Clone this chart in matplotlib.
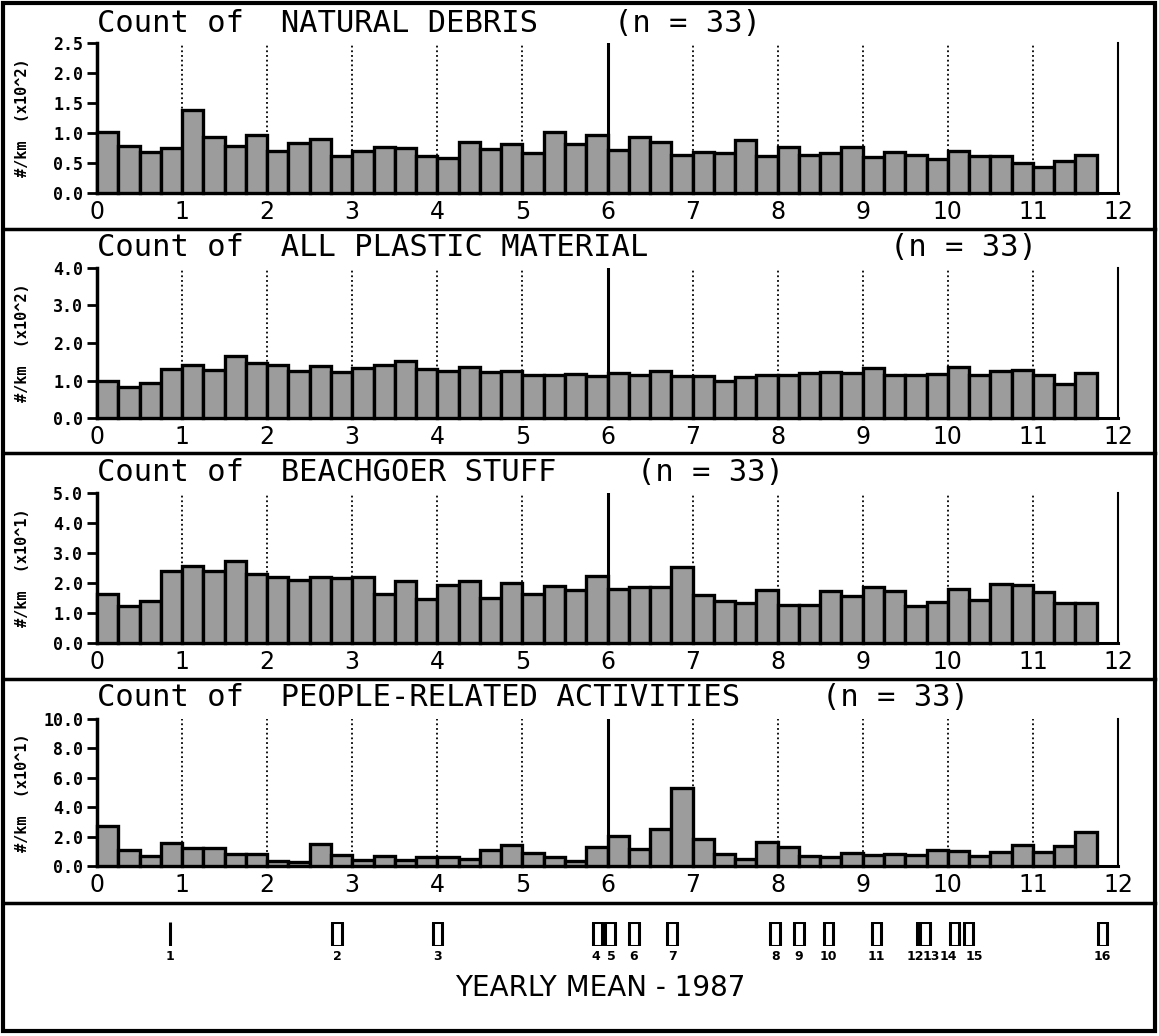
import matplotlib
matplotlib.use("Agg")
import matplotlib.pyplot as plt
from matplotlib.lines import Line2D
from matplotlib.patches import Rectangle
import numpy as np

# ---------------- data ----------------
bar_width = 0.25  # months per bar (weekly bins)

natural_debris = [1.02, 0.78, 0.68, 0.75, 1.38, 0.93, 0.78, 0.97, 0.70, 0.83, 0.90, 0.61,
                  0.70, 0.77, 0.75, 0.62, 0.59, 0.85, 0.73, 0.81, 0.67, 1.02, 0.81, 0.96,
                  0.72, 0.93, 0.85, 0.64, 0.69, 0.67, 0.89, 0.61, 0.77, 0.64, 0.66, 0.76,
                  0.60, 0.68, 0.64, 0.57, 0.70, 0.61, 0.61, 0.50, 0.43, 0.54, 0.64]

all_plastic = [1.00, 0.84, 0.93, 1.31, 1.40, 1.29, 1.64, 1.47, 1.42, 1.24, 1.38, 1.22,
               1.33, 1.40, 1.53, 1.31, 1.24, 1.35, 1.22, 1.24, 1.16, 1.16, 1.17, 1.11,
               1.20, 1.14, 1.24, 1.12, 1.12, 1.00, 1.09, 1.14, 1.14, 1.20, 1.23, 1.20,
               1.33, 1.14, 1.14, 1.18, 1.36, 1.16, 1.26, 1.27, 1.14, 0.90, 1.20]

beachgoer = [1.63, 1.24, 1.39, 2.39, 2.56, 2.39, 2.74, 2.31, 2.19, 2.11, 2.20, 2.17,
             2.20, 1.63, 2.08, 1.47, 1.94, 2.08, 1.50, 2.00, 1.63, 1.89, 1.78, 2.24,
             1.80, 1.86, 1.86, 2.52, 1.59, 1.39, 1.33, 1.78, 1.28, 1.28, 1.72, 1.56,
             1.86, 1.72, 1.22, 1.36, 1.80, 1.44, 1.97, 1.94, 1.69, 1.33, 1.33]

people_related = [2.70, 1.11, 0.66, 1.57, 1.23, 1.23, 0.84, 0.80, 0.34, 0.30, 1.50, 0.75,
                  0.41, 0.68, 0.41, 0.64, 0.64, 0.48, 1.09, 1.43, 0.91, 0.64, 0.32, 1.32,
                  2.07, 1.16, 2.50, 5.30, 1.82, 0.80, 0.45, 1.61, 1.32, 0.68, 0.59, 0.91,
                  0.75, 0.80, 0.75, 1.09, 1.02, 0.68, 0.98, 1.43, 0.98, 1.36, 2.34]

panel_names = ["NATURAL DEBRIS", "ALL PLASTIC MATERIAL", "BEACHGOER STUFF",
               "PEOPLE-RELATED ACTIVITIES"]
panel_n = [33, 33, 33, 33]
panel_series = [natural_debris, all_plastic, beachgoer, people_related]
panel_ylabels = ["#/km  (x10^2)", "#/km  (x10^2)", "#/km  (x10^1)", "#/km  (x10^1)"]
panel_yticks = [[0.0, 0.5, 1.0, 1.5, 2.0, 2.5],
                [0.0, 1.0, 2.0, 3.0, 4.0],
                [0.0, 1.0, 2.0, 3.0, 4.0, 5.0],
                [0.0, 2.0, 4.0, 6.0, 8.0, 10.0]]
x_tick_labels = [str(i) for i in range(13)]

site_ids = list(range(1, 17))
site_means = [0.86, 2.82, 4.00, 5.88, 6.03, 6.31, 6.76, 7.97, 8.25, 8.60, 9.16,
              9.69, 9.73, 10.08, 10.24, 11.82]
site_widths = [0.0, 0.11, 0.11, 0.11, 0.11, 0.11, 0.11, 0.11, 0.11, 0.11, 0.11,
               0.11, 0.11, 0.11, 0.11, 0.11]
strip_title = "YEARLY MEAN - 1987"

# ---------------- layout ----------------
W, H = 1159, 1036
fig = plt.figure(figsize=(W / 100, H / 100), dpi=100)
fig.patch.set_facecolor("white")


def fx(px):
    return px / W


def fy(py):
    return 1 - py / H


X0, X1 = 97, 1118
panel_bottom = [193, 418, 643, 866]
panel_top = [43, 268, 493, 719]
title_y = [23, 248, 473, 698]
n_x = [614, 890, 637, 822]
mono = "DejaVu Sans Mono"

for i in range(4):
    y0, y1 = panel_bottom[i], panel_top[i]
    ax = fig.add_axes([fx(X0), fy(y0), fx(X1) - fx(X0), (y0 - y1) / H])
    vals = panel_series[i]
    xs = np.arange(len(vals)) * bar_width
    ax.bar(xs, vals, width=bar_width, align="edge", color="#9c9c9c",
           edgecolor="black", linewidth=2.4, zorder=3, clip_on=False)
    for k in range(1, 12):
        if k == 6:
            ax.axvline(k, color="black", lw=2.2, zorder=4)
        else:
            ax.axvline(k, color="black", lw=1.3, linestyle=(0, (1, 1.6)), zorder=1)
    ticks = panel_yticks[i]
    ax.set_xlim(0, 12)
    ax.set_ylim(0, ticks[-1])
    ax.spines["top"].set_visible(False)
    ax.spines["right"].set_linewidth(1.5)
    ax.spines["left"].set_linewidth(2.5)
    ax.spines["bottom"].set_linewidth(2.2)
    ax.set_yticks(ticks, labels=[f"{t:.1f}" for t in ticks],
                  fontfamily=mono, fontweight="bold", fontsize=12)
    ax.set_xticks(range(13), labels=x_tick_labels, fontsize=17)
    ax.tick_params(axis="y", direction="out", length=7, width=2, pad=3, right=False)
    ax.tick_params(axis="x", length=0, pad=5)
    ax.set_ylabel(panel_ylabels[i], fontfamily=mono, fontweight="bold", fontsize=11)
    ax.yaxis.set_label_coords(-(X0 - 30) / (X1 - X0), 0.5)
    fig.text(fx(97), fy(title_y[i]), "Count of  " + panel_names[i],
             fontfamily=mono, fontsize=22, ha="left", va="center")
    fig.text(fx(n_x[i]), fy(title_y[i]), f"(n = {panel_n[i]})",
             fontfamily=mono, fontsize=22, ha="left", va="center")

# bottom strip with site yearly means
ax_s = fig.add_axes([fx(X0), fy(946), fx(X1) - fx(X0), 24 / H])
ax_s.set_xlim(0, 12)
ax_s.set_ylim(0, 1)
ax_s.axis("off")
n_sites = len(site_ids)
for j, (sid, m, w) in enumerate(zip(site_ids, site_means, site_widths)):
    if w == 0:
        ax_s.plot([m, m], [0, 1], color="black", lw=2.2, solid_capstyle="butt")
    else:
        ax_s.add_patch(Rectangle((m - w / 2, 0), w, 1, facecolor="white",
                                 edgecolor="black", lw=2.2, joinstyle="round"))
    # close neighbours: push labels apart so they stay readable
    ha = "center"
    xpos = m
    if j + 1 < n_sites and site_means[j + 1] - m < 0.2:
        ha, xpos = "right", m + 0.03
    elif j > 0 and m - site_means[j - 1] < 0.2:
        ha, xpos = "left", m - 0.03
    ax_s.text(xpos, -0.45, str(sid), ha=ha, va="center", fontsize=9,
              fontweight="bold")
fig.text(fx(600), fy(988), strip_title, fontsize=20, ha="center", va="center")

# frame and separators
for y in [229, 453, 679, 903]:
    fig.add_artist(Line2D([fx(3), fx(1155)], [fy(y), fy(y)], color="black", lw=2.5,
                          transform=fig.transFigure))
fig.add_artist(Rectangle((fx(3), fy(1031)), fx(1155) - fx(3), (1031 - 3) / H,
                         fill=False, edgecolor="black", lw=3, transform=fig.transFigure))

fig.savefig("out.png", dpi=100)
